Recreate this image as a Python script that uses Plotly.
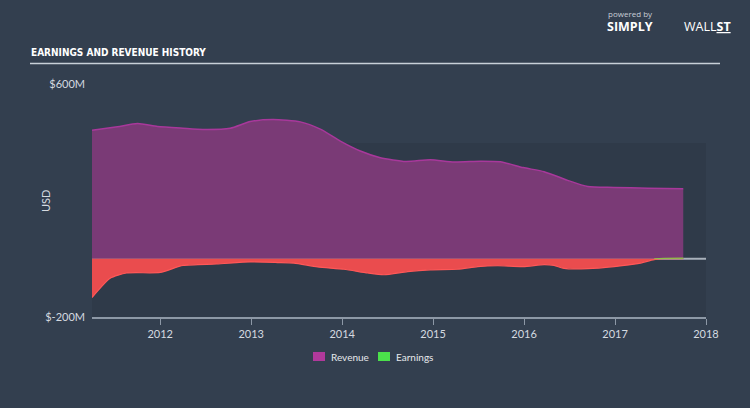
import plotly.graph_objects as go

# ---- data (USD millions) ----
rev_dates = [2011.25, 2011.53, 2011.75, 2011.97, 2012.25, 2012.47, 2012.77, 2012.99,
             2013.24, 2013.54, 2013.76, 2013.98, 2014.20, 2014.42, 2014.70, 2014.97,
             2015.23, 2015.52, 2015.74, 2015.99, 2016.22, 2016.48, 2016.70, 2016.99,
             2017.36, 2017.75]
revenue = [441, 453, 464, 454, 448, 444, 448, 471,
           478, 470, 445, 404, 370, 347, 334, 340,
           332, 335, 333, 313, 299, 269, 248, 245,
           242, 240]

earn_dates = [2011.25, 2011.45, 2011.63, 2012.00, 2012.25, 2012.62, 2012.99, 2013.29,
              2013.47, 2013.73, 2014.02, 2014.28, 2014.46, 2014.72, 2014.97, 2015.27,
              2015.49, 2015.71, 2015.99, 2016.22, 2016.33, 2016.44, 2016.70, 2016.99,
              2017.25, 2017.43, 2017.54, 2017.75]
earnings = [-133, -67, -49, -47, -23, -18, -11, -13,
            -15, -28, -36, -49, -55, -44, -38, -36,
            -27, -24, -27, -20, -23, -33, -34, -27,
            -17, -3, 1, 2]

y_tick_vals = [600, -200]
y_tick_text = ["$600M", "$-200M"]
x_tick_vals = [2012, 2013, 2014, 2015, 2016, 2017, 2018]

BG = "#333f4f"
W, H = 750, 408
L, R, T, B = 92, 44, 84, 91

def px(x):  # pixel -> paper x
    return (x - L) / (W - L - R)

def py(y):  # pixel -> paper y
    return 1 - (y - T) / (H - T - B)

earn_neg = [min(e, 0) for e in earnings]
# positive part only where earnings turn positive
first_pos = next(i for i, e in enumerate(earnings) if e > 0)
pos_dates = earn_dates[first_pos - 1:]
pos_vals = [max(e, 0) for e in earnings[first_pos - 1:]]

fig = go.Figure()
fig.add_trace(go.Scatter(x=rev_dates, y=revenue, mode="lines", fill="tozeroy",
                         line=dict(color="#a8389b", width=1.5, shape="spline", smoothing=0.6),
                         fillcolor="#7a3a76", name="Revenue", showlegend=False,
                         hoverinfo="skip"))
fig.add_trace(go.Scatter(x=earn_dates, y=earn_neg, mode="lines", fill="tozeroy",
                         line=dict(color="#ff5757", width=1.2, shape="spline", smoothing=0.6),
                         fillcolor="#ea4c4e", name="Earnings", showlegend=False,
                         hoverinfo="skip"))
fig.add_trace(go.Scatter(x=pos_dates, y=pos_vals, mode="lines", fill="tozeroy",
                         line=dict(color="#8fc04a", width=1.2, shape="spline", smoothing=0.6),
                         fillcolor="#4be04b", name="Earnings+", showlegend=False,
                         hoverinfo="skip"))

shapes = [
    # darker lower plot band
    dict(type="rect", xref="paper", yref="paper", x0=0, x1=1, y0=0, y1=py(143),
         fillcolor="#2f3a49", line=dict(width=0), layer="below"),
    # zero line
    dict(type="line", xref="paper", yref="y", x0=0, x1=1, y0=0, y1=0,
         line=dict(color="#a9b1bb", width=2), layer="below"),
    # title underline
    dict(type="line", xref="paper", yref="paper", x0=px(30), x1=px(720),
         y0=py(63.5), y1=py(63.5), line=dict(color="#c8d0d8", width=1.5)),
    # legend swatches
    dict(type="rect", xref="paper", yref="paper", x0=px(313), x1=px(325),
         y0=py(361), y1=py(352), fillcolor="#b0399b", line=dict(width=0)),
    dict(type="rect", xref="paper", yref="paper", x0=px(378), x1=px(390),
         y0=py(361), y1=py(352), fillcolor="#4be04b", line=dict(width=0)),
]

annotations = [
    dict(text="<b>EARNINGS AND REVENUE HISTORY</b>", xref="paper", yref="paper",
         x=px(29), y=py(53), xanchor="left", yanchor="middle", showarrow=False,
         font=dict(family="DejaVu Sans Condensed, DejaVu Sans", size=10, color="#ffffff")),
    dict(text="USD", xref="paper", yref="paper", x=px(45), y=py(201),
         xanchor="center", yanchor="middle", showarrow=False, textangle=-90,
         font=dict(family="Lato, Open Sans", size=11, color="#d5dae0")),
    dict(text="Revenue", xref="paper", yref="paper", x=px(329), y=py(356.5),
         xanchor="left", yanchor="middle", showarrow=False,
         font=dict(family="Lato, Open Sans", size=10, color="#e6e9ec")),
    dict(text="Earnings", xref="paper", yref="paper", x=px(394), y=py(356.5),
         xanchor="left", yanchor="middle", showarrow=False,
         font=dict(family="Lato, Open Sans", size=10, color="#e6e9ec")),
    dict(text="powered by", xref="paper", yref="paper", x=px(606), y=py(14),
         xanchor="left", yanchor="middle", showarrow=False,
         font=dict(family="Open Sans", size=8, color="#c8ced6")),
    dict(text="<b>SIMPLY</b>", xref="paper", yref="paper", x=px(605), y=py(26),
         xanchor="left", yanchor="middle", showarrow=False,
         font=dict(family="Open Sans", size=12.5, color="#ffffff")),
    dict(text="WALL<u><b>ST</b></u>", xref="paper", yref="paper", x=px(682), y=py(26),
         xanchor="left", yanchor="middle", showarrow=False,
         font=dict(family="Open Sans", size=12.5, color="#ffffff")),
]

fig.update_layout(
    width=W, height=H,
    margin=dict(l=L, r=R, t=T, b=B),
    paper_bgcolor=BG, plot_bgcolor=BG,
    showlegend=False,
    shapes=shapes, annotations=annotations,
    xaxis=dict(range=[2011.25, 2018], tickvals=x_tick_vals,
               ticktext=[str(v) for v in x_tick_vals],
               showgrid=False, zeroline=False, showline=True,
               linecolor="#8d98a6", linewidth=1.5, ticks="outside",
               ticklen=6, tickcolor="#8d98a6",
               tickfont=dict(family="Lato, Open Sans", size=11, color="#d5dae0")),
    yaxis=dict(range=[-200, 600], tickvals=y_tick_vals, ticktext=y_tick_text,
               showgrid=False, zeroline=False, showline=False, ticks="",
               ticklabelstandoff=6,
               tickfont=dict(family="Lato, Open Sans", size=11, color="#d5dae0")),
)

fig.write_html("out.html")
